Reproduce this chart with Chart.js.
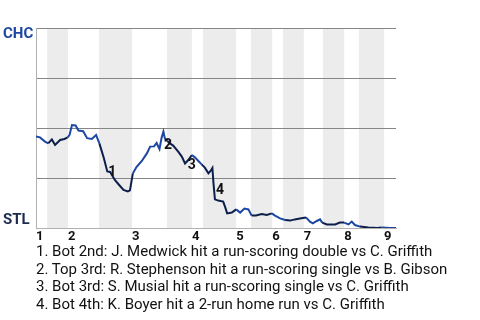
<!DOCTYPE html>
<html>
<head>
<meta charset="utf-8">
<script src="https://cdn.jsdelivr.net/npm/chart.js@4.4.1/dist/chart.umd.min.js"></script>
<style>
  body { margin: 0; background: #fff; font-family: Roboto, sans-serif; }
  #wrap { position: relative; width: 480px; height: 320px; }
  #notes { position: absolute; left: 36px; top: 243px; font-size: 15px; line-height: 17.7px; color: #111; white-space: nowrap; }
</style>
</head>
<body>
<div id="wrap">
  <canvas id="wpChart" width="480" height="250"></canvas>
  <div id="notes"></div>
</div>
<script>
// win probability for CHC (0 = STL wins, 100 = CHC wins), x in plays
const playX = [0, 1.1, 2.5, 3.4, 4.4, 5.3, 6.7, 7.9, 8.8, 9.3, 10.0, 11.0, 11.8, 13.1, 14.2, 15.5, 16.7, 17.6, 18.8, 19.8,
  20.6, 21.9, 23.1, 24.3, 25.5, 26.1, 26.9, 27.9, 29.4, 30.8, 31.7, 32.8, 33.5, 34.3, 34.9, 35.4, 35.8, 36.5, 37.2, 38.1,
  39.5, 40.5, 41.4, 42.3, 43.3, 44.2, 45.1, 46.0, 46.9, 47.9, 48.5, 49.0, 49.3, 49.7, 50.6, 52.0, 52.5, 53.1, 54.4, 55.6,
  56.7, 57.9, 59.0, 59.9, 61.1, 62.7, 64.1, 65.5, 66.4, 67.8, 69.2, 70.6, 71.9, 73.3, 75.0, 76.1, 76.9, 78.0, 78.9, 79.5,
  80.8, 83.1, 84.4, 85.6, 86.8, 87.7, 88.6, 90.0, 92.3, 94.8, 96.0, 98.3, 100];
const chcWinPct = [45.8, 45.3, 43.2, 42.3, 44.3, 41.5, 44.0, 44.5, 45.3, 46.5, 51.5, 51.3, 48.7, 48.4, 44.9, 44.5, 46.5, 42.3, 35.3, 28.3,
  28.0, 24.0, 21.5, 19.0, 18.3, 18.8, 27.3, 30.5, 33.5, 37.3, 40.7, 40.8, 42.5, 39.5, 45.2, 48.2, 44.8, 43.5, 42.3, 41.2,
  38.2, 35.7, 32.3, 34.0, 36.5, 35.2, 33.5, 31.8, 30.2, 27.3, 28.5, 30.0, 22.3, 14.3, 13.7, 13.2, 10.7, 7.3, 7.7, 9.3,
  7.7, 9.7, 9.3, 6.2, 6.3, 7.0, 6.5, 7.3, 6.2, 4.8, 4.0, 3.7, 4.3, 4.8, 5.3, 3.2, 2.3, 3.5, 4.3, 2.7,
  1.8, 1.8, 2.7, 2.7, 1.8, 3.2, 1.5, 0.7, 0.3, 0, 0.3, 0, 0];

// start of each half inning (top 1st, bot 1st, ...), last value = end of game
const halfInningEdges = [0, 3.1, 8.9, 17.5, 26.7, 36.4, 43.3, 46.4, 55.6, 59.7, 65.6, 68.6, 74.4, 79.7, 85.6, 89.7, 96.7, 100];
const inningLabels = ['1', '2', '3', '4', '5', '6', '7', '8', '9'];

const teamTop = 'CHC';
const teamBottom = 'STL';

const eventLabels = ['1', '2', '3', '4'];
const eventX = [21.2, 36.7, 43.3, 51.1];
const eventY = [28, 41.5, 31.5, 19];
const eventNotes = [
  '1. Bot 2nd: J. Medwick hit a run-scoring double vs C. Griffith',
  '2. Top 3rd: R. Stephenson hit a run-scoring single vs B. Gibson',
  '3. Bot 3rd: S. Musial hit a run-scoring single vs C. Griffith',
  '4. Bot 4th: K. Boyer hit a 2-run home run vs C. Griffith'
];

const chcBlue = '#1c47a3';
const stlNavy = '#0c1e4a';

// top halves (CHC batting) in blue, bottom halves in navy
function halfInningColor(x) {
  let idx = 0;
  while (idx < halfInningEdges.length - 2 && x >= halfInningEdges[idx + 1]) idx++;
  return idx % 2 === 0 ? chcBlue : stlNavy;
}

const bandsPlugin = {
  id: 'bands',
  beforeDraw(chart) {
    const { ctx, chartArea, scales } = chart;
    ctx.save();
    ctx.fillStyle = '#ececec';
    for (let i = 1; i < halfInningEdges.length - 1; i += 2) {
      const x0 = scales.x.getPixelForValue(halfInningEdges[i]);
      const x1 = scales.x.getPixelForValue(halfInningEdges[i + 1]);
      ctx.fillRect(x0, chartArea.top, x1 - x0, chartArea.bottom - chartArea.top);
    }
    ctx.restore();
  },
  afterDraw(chart) {
    const { ctx, scales } = chart;
    ctx.save();
    ctx.textBaseline = 'middle';
    ctx.textAlign = 'left';
    ctx.font = 'bold 15px Roboto';
    ctx.fillStyle = chcBlue;
    ctx.fillText(teamTop, 3, scales.y.getPixelForValue(100) + 6);
    ctx.fillStyle = '#1b2b4d';
    ctx.fillText(teamBottom, 3, scales.y.getPixelForValue(0) - 8);

    ctx.textAlign = 'center';
    ctx.font = 'bold 14px Roboto';
    ctx.fillStyle = '#111';
    eventLabels.forEach((lbl, i) => {
      ctx.fillText(lbl, scales.x.getPixelForValue(eventX[i]), scales.y.getPixelForValue(eventY[i]));
    });
    ctx.restore();
  }
};

function drawChart() {
  Chart.defaults.font.family = 'Roboto';
  const ctx = document.getElementById('wpChart').getContext('2d');
  new Chart(ctx, {
    type: 'line',
    data: {
      datasets: [{
        data: playX.map((x, i) => ({ x: x, y: chcWinPct[i] })),
        borderWidth: 2,
        pointRadius: 0,
        tension: 0,
        borderColor: stlNavy,
        segment: {
          borderColor: c => halfInningColor((c.p0.parsed.x + c.p1.parsed.x) / 2)
        }
      }]
    },
    options: {
      responsive: false,
      animation: false,
      layout: { padding: { left: 36, right: 84, top: 28, bottom: 0 } },
      plugins: { legend: { display: false }, tooltip: { enabled: false } },
      scales: {
        x: {
          type: 'linear',
          min: 0,
          max: 100,
          afterBuildTicks: axis => {
            axis.ticks = halfInningEdges.filter((v, i) => i % 2 === 0 && i < halfInningEdges.length - 1).map(v => ({ value: v }));
          },
          afterFit: axis => { axis.height = 22; },
          ticks: {
            autoSkip: false,
            maxRotation: 0,
            align: 'start',
            padding: 1,
            color: '#111',
            font: { size: 13, weight: 'bold' },
            callback: (v, i) => inningLabels[i]
          },
          grid: { display: false, drawTicks: false },
          border: { color: '#b0b0b0' }
        },
        y: {
          min: 0,
          max: 100,
          afterFit: axis => { axis.width = 0; },
          ticks: { display: false, stepSize: 25 },
          grid: {
            drawTicks: false,
            color: c => c.tick && c.tick.value === 0 ? '#b0b0b0' : '#868686'
          },
          border: { color: '#b0b0b0' }
        }
      }
    },
    plugins: [bandsPlugin]
  });

  document.getElementById('notes').innerHTML = eventNotes.map(t => '<div>' + t + '</div>').join('');
}

window.onload = drawChart;
</script>
</body>
</html>
